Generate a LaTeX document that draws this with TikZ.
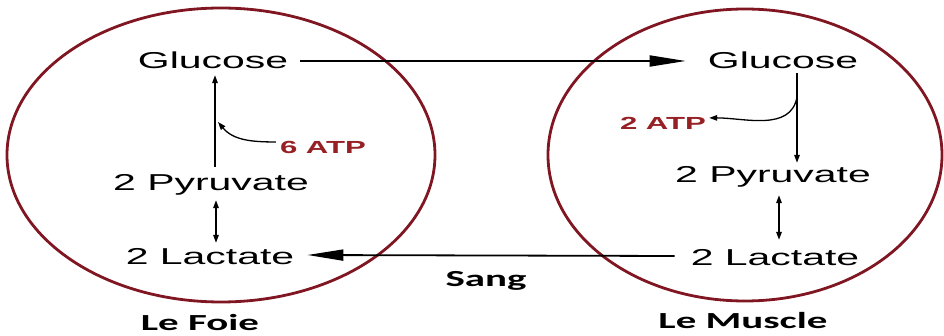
\documentclass[tikz,border=0pt]{standalone}
\usepackage{fontspec}
\usepackage{graphicx}
\setmainfont{Liberation Sans}
\newfontfamily\lblfont{Carlito}
\usetikzlibrary{arrows.meta,calc}
\definecolor{ring}{RGB}{128,22,34}
\definecolor{atp}{RGB}{150,32,36}
% wide lettering used throughout the figure
\newcommand{\wide}[1]{\scalebox{1.78}[1]{#1}}
\begin{document}
\begin{tikzpicture}[x=1pt,y=-1pt,
  chem/.style={inner sep=0pt,anchor=base,text height=17pt,text depth=5pt,
    font=\fontsize{23}{26}\selectfont},
  organ/.style={inner sep=0pt,anchor=base,font=\lblfont\bfseries\fontsize{23}{26}\selectfont},
  energy/.style={inner sep=0pt,anchor=base,text=atp,font=\bfseries\fontsize{17.5}{20}\selectfont},
  cell/.style={draw=ring,line width=2.8pt},
  bigarrow/.style={line width=1.8pt,-{Triangle[length=36pt,width=11pt]}},
  thin/.style={line width=1.6pt},
  tip/.style={-{Triangle[length=8pt,width=5.5pt]}},
  twotips/.style={{Triangle[length=8pt,width=5.5pt]}-{Triangle[length=8pt,width=5.5pt]}},
]
\useasboundingbox (0,0) rectangle (944,336);

% the two organs
\draw[cell] (221,155) ellipse [x radius=214pt, y radius=147pt];
\draw[cell] (745,155) ellipse [x radius=197pt, y radius=146pt];

% liver
\node[chem] (gL) at (213,69) {\wide{Glucose}};
\node[chem] (pL) at (211,191) {\wide{2 Pyruvate}};
\node[chem] (lL) at (210,265) {\wide{2 Lactate}};
\node[energy] (aL) at (323,154) {\wide{6 ATP}};
\node[organ] (fL) at (200,330) {\wide{Le Foie}};

% muscle
\node[chem] (gR) at (783,69) {\wide{Glucose}};
\node[chem] (pR) at (773,183) {\wide{2 Pyruvate}};
\node[chem] (lR) at (775,266) {\wide{2 Lactate}};
\node[energy] (aR) at (663,130) {\wide{2 ATP}};
\node[organ] (mR) at (743,328) {\wide{Le Muscle}};

% blood
\node[organ] (sg) at (486,287) {\wide{Sang}};

% transport through the blood
\draw[bigarrow] ($(gL.east)+(12,-2)$) -- ($(gR.west)+(-22,-2)$);
\draw[bigarrow] ($(lR.west)+(-16,-4)$) -- ($(lL.east)+(13,-4)$);

% gluconeogenesis in the liver
\coordinate (cL) at (215,0);
\coordinate (dL) at (216,0);
\draw[thin,tip] ($(pL.north -| cL)+(0,-7)$) -- ($(gL.south -| cL)+(0,1)$);
\draw[thin,twotips] ($(pL.south -| dL)+(0,4)$) -- ($(lL.north -| dL)+(0,-5)$);
\draw[line width=1.3pt,tip] ($(aL.west)+(-4,-6)$) to[out=180,in=-50] (218,122);

% glycolysis in the muscle
\coordinate (cR) at (797,0);
\coordinate (dR) at (779,0);
\draw[thin,tip] ($(gR.south -| cR)+(0,-1)$) -- ($(pR.north -| cR)+(0,-3)$);
\coordinate (bR) at (797,97);
\draw[line width=1.3pt,tip] (bR) to[out=-100,in=0] ($(aR.east)+(3,-6)$);
\draw[thin,twotips] ($(pR.south -| dR)+(0,7)$) -- ($(lR.north -| dR)+(0,-9)$);
\end{tikzpicture}
\end{document}
